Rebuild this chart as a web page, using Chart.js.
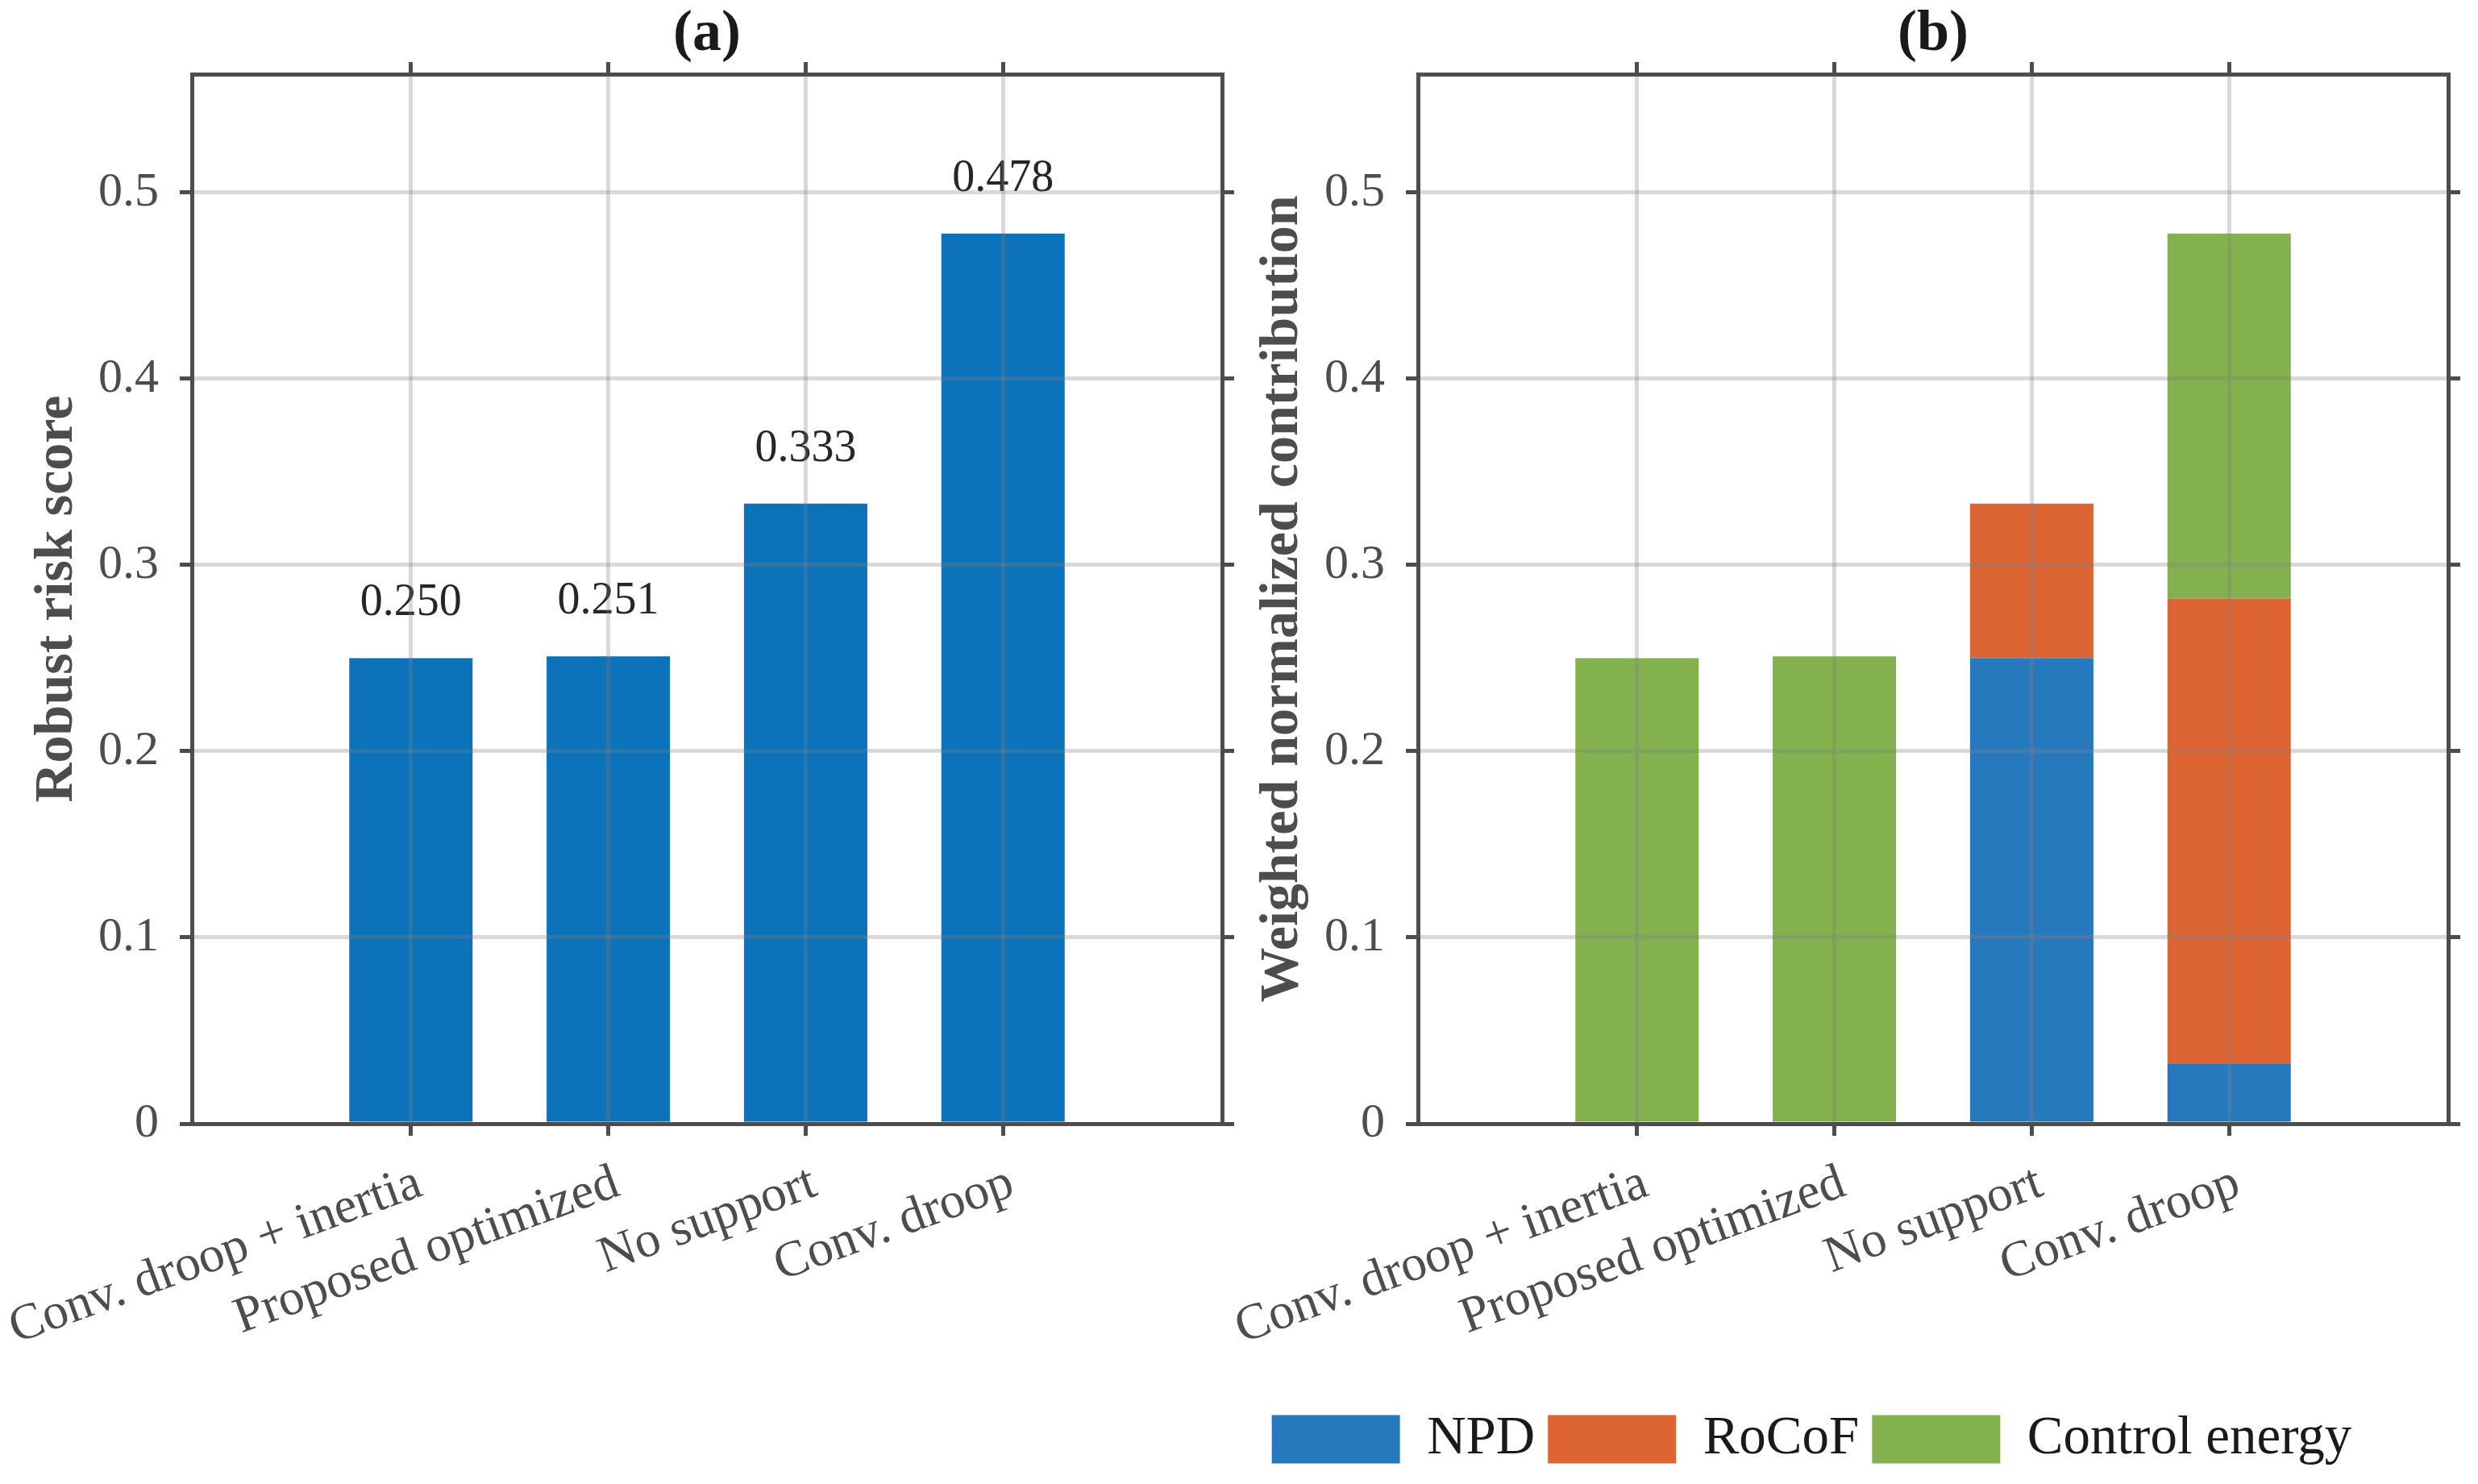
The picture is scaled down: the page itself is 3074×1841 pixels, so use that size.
<!DOCTYPE html>
<html><head><meta charset="utf-8">
<script src="https://cdn.jsdelivr.net/npm/chart.js@4.4.1/dist/chart.umd.min.js"></script>
<style>
html,body{margin:0;padding:0;background:#fff;overflow:hidden}
#wrap{position:relative;width:3074px;height:1841px;background:#fff}
canvas{position:absolute;top:0}
#ca{left:0}
#cb{left:1421px}
</style></head><body>
<div id="wrap"><canvas id="ca" width="1560" height="1841"></canvas><canvas id="cb" width="1653" height="1841"></canvas></div>
<script>
// ---- data ----
const categories = ['Conv. droop + inertia', 'Proposed optimized', 'No support', 'Conv. droop'];
const riskScore = [0.250, 0.251, 0.333, 0.478];
const npd = [0, 0, 0.250, 0.032];
const rocof = [0, 0, 0.083, 0.250];
const controlEnergy = [0.250, 0.251, 0, 0.196];
const seriesNames = ['NPD', 'RoCoF', 'Control energy'];
const yTicks = [0, 0.1, 0.2, 0.3, 0.4, 0.5];
const panelTitles = ['(a)', '(b)'];
const yTitles = ['Robust risk score', 'Weighted normalized contribution'];

// ---- style ----
const FONT = "'Liberation Serif','Times New Roman',serif";
Chart.defaults.font.family = FONT;
Chart.defaults.animation = false;
const AX = '#4d4d4d';
const GRID = 'rgba(128,128,128,0.3)';
const X_MIN = -0.11, X_MAX = 5.11, Y_MAX = 0.5636;
const TOP = 92, BOTTOM = 1394, H = 1841;

const catTicks = s => { s.ticks = categories.map((_, i) => ({ value: i + 1 })); };
const valTicks = s => { s.ticks = yTicks.map(v => ({ value: v })); };
const border = { display: true, color: AX, width: 5, z: 2 };

function makeScales(p) {
  return {
    x: {
      type: 'linear', position: 'bottom', min: X_MIN, max: X_MAX, offset: false, stacked: p.stacked,
      grid: { offset: false, color: GRID, lineWidth: 5, z: 1, drawTicks: true, tickLength: 15, tickWidth: 5, tickColor: AX },
      border: border,
      ticks: { autoSkip: false, minRotation: 20, maxRotation: 20, padding: 22, labelOffset: 11, color: AX,
               font: { size: 63 }, callback: v => categories[Math.round(v) - 1] },
      afterBuildTicks: catTicks,
      afterFit: s => {
        const lg = (p.legend && s.chart.legend) ? s.chart.legend.height : 0;
        s.height = H - BOTTOM - lg - p.padBottom;
        s.paddingLeft = 0; s.paddingRight = 0;
      }
    },
    x2: {
      type: 'linear', position: 'top', min: X_MIN, max: X_MAX, offset: false,
      grid: { offset: false, drawOnChartArea: false, drawTicks: true, tickLength: 15, tickWidth: 5, tickColor: AX, z: 1 },
      border: border,
      ticks: { display: false },
      title: { display: true, text: p.title, color: '#1a1a1a', font: { size: 72, weight: 'bold', lineHeight: 1 }, padding: { top: 7, bottom: 0 } },
      afterBuildTicks: catTicks,
      afterFit: s => { s.height = TOP; s.paddingLeft = 0; s.paddingRight = 0; }
    },
    y: {
      type: 'linear', position: 'left', min: 0, max: Y_MAX, stacked: p.stacked,
      grid: { color: GRID, lineWidth: 5, z: 1, drawTicks: true, tickLength: 15, tickWidth: 5, tickColor: AX },
      border: border,
      ticks: { padding: 26, color: AX, font: { size: 60 }, callback: v => (v === 0 ? '0' : (Math.round(v * 10) / 10).toString()) },
      afterBuildTicks: valTicks,
      title: { display: true, text: p.ytitle, color: AX, font: { size: 68, weight: 'bold', lineHeight: 1 }, padding: { top: p.titlePad, bottom: 0 } },
      afterFit: s => { s.width = p.leftW; s.paddingTop = 0; s.paddingBottom = 0; }
    },
    y2: {
      type: 'linear', position: 'right', min: 0, max: Y_MAX,
      grid: { drawOnChartArea: false, drawTicks: true, tickLength: 15, tickWidth: 5, tickColor: AX, z: 1 },
      border: border,
      ticks: { display: false },
      afterBuildTicks: valTicks,
      afterFit: s => { s.width = p.rightW; s.paddingTop = 0; s.paddingBottom = 0; }
    }
  };
}

const valueLabels = {
  id: 'valueLabels',
  afterDatasetsDraw(chart) {
    const meta = chart.getDatasetMeta(0);
    const ctx = chart.ctx;
    ctx.save();
    ctx.font = '56px ' + FONT;
    ctx.fillStyle = '#262626';
    ctx.textAlign = 'center';
    ctx.textBaseline = 'alphabetic';
    meta.data.forEach((bar, i) => ctx.fillText(riskScore[i].toFixed(3), bar.x, bar.y - 53));
    ctx.restore();
  }
};

const pts = arr => arr.map((v, i) => ({ x: i + 1, y: v }));

new Chart(document.getElementById('ca'), {
  type: 'bar',
  data: { datasets: [{ label: 'Robust risk score', data: pts(riskScore), backgroundColor: '#0c72b9', borderWidth: 0,
                       barPercentage: 0.625, categoryPercentage: 1 }] },
  options: {
    responsive: false, maintainAspectRatio: false,
    layout: { padding: 0 },
    plugins: { legend: { display: false }, tooltip: { enabled: false }, title: { display: false } },
    scales: makeScales({ stacked: false, title: panelTitles[0], ytitle: yTitles[0], leftW: 238, rightW: 44, titlePad: 37, legend: false, padBottom: 0 })
  },
  plugins: [valueLabels]
});

const PADB = 12;
new Chart(document.getElementById('cb'), {
  type: 'bar',
  data: { datasets: [
    { label: seriesNames[0], data: pts(npd), backgroundColor: '#2779bd', borderWidth: 0, barPercentage: 0.625, categoryPercentage: 1 },
    { label: seriesNames[1], data: pts(rocof), backgroundColor: '#dd6433', borderWidth: 0, barPercentage: 0.625, categoryPercentage: 1 },
    { label: seriesNames[2], data: pts(controlEnergy), backgroundColor: '#83b14e', borderWidth: 0, barPercentage: 0.625, categoryPercentage: 1 }
  ] },
  options: {
    responsive: false, maintainAspectRatio: false,
    layout: { padding: { bottom: PADB } },
    plugins: {
      legend: { display: true, position: 'bottom', align: 'center',
        labels: { boxWidth: 159, boxHeight: 60, padding: 16, color: '#1a1a1a', font: { size: 67 } } },
      tooltip: { enabled: false }, title: { display: false }
    },
    scales: makeScales({ stacked: true, title: panelTitles[1], ytitle: yTitles[1], leftW: 338, rightW: 37, titlePad: 136, legend: true, padBottom: PADB })
  }
});
</script>
</body></html>
